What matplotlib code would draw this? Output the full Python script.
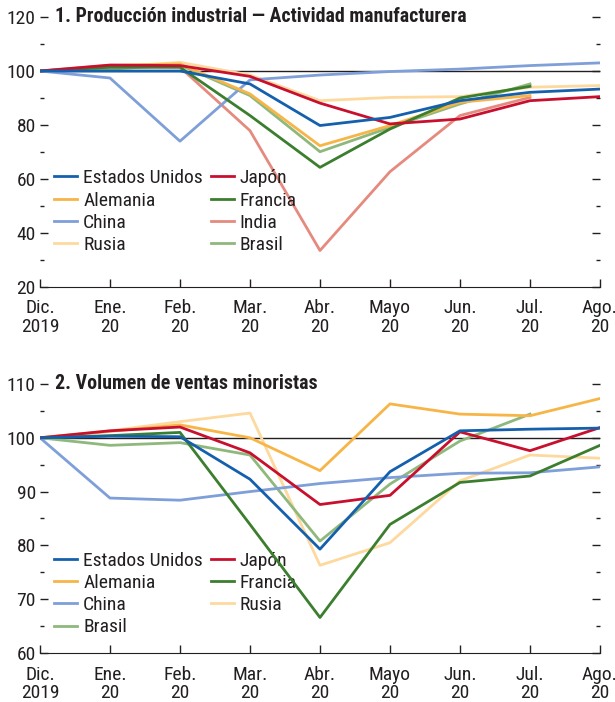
import matplotlib
matplotlib.use("Agg")
import matplotlib.pyplot as plt
from matplotlib.ticker import MultipleLocator

months = ["Dic.\n2019", "Ene.\n20", "Feb.\n20", "Mar.\n20", "Abr.\n20",
          "Mayo\n20", "Jun.\n20", "Jul.\n20", "Ago.\n20"]

# Panel 1: industrial production (index, Dec 2019 = 100)
ip_eeuu = [100, 100.0, 100.0, 95.2, 79.8, 82.8, 89.0, 92.1, 93.3]
ip_alemania = [100, 102.1, 102.6, 91.5, 72.3, 79.8, 88.4, 90.9]
ip_china = [100, 97.4, 74.0, 96.7, 98.5, 99.8, 100.7, 102.0, 103.0]
ip_rusia = [100, 101.4, 103.2, 98.5, 89.0, 90.2, 90.5, 94.0, 94.6]
ip_japon = [100, 102.2, 102.0, 98.0, 88.1, 80.4, 82.2, 89.0, 90.5]
ip_francia = [100, 101.4, 101.4, 83.5, 64.3, 78.5, 90.0, 94.3]
ip_india = [100, 101.6, 101.4, 77.9, 33.5, 62.7, 83.5, 90.2]
ip_brasil = [100, 100.7, 102.2, 90.9, 70.1, 79.1, 87.8, 95.2]

# Panel 2: retail sales volume
rs_eeuu = [100, 100.3, 100.2, 92.3, 79.3, 93.7, 101.3, 101.6, 101.8]
rs_alemania = [100, 101.2, 102.4, 100.0, 93.9, 106.3, 104.4, 104.1, 107.3]
rs_china = [100, 88.8, 88.4, 90.0, 91.5, 92.6, 93.4, 93.5, 94.6]
rs_brasil = [100, 98.6, 99.1, 96.8, 80.8, 91.4, 99.4, 104.4]
rs_japon = [100, 101.3, 102.0, 97.2, 87.6, 89.3, 101.1, 97.6, 101.9]
rs_francia = [100, 100.4, 101.0, 83.9, 66.6, 83.9, 91.7, 92.9, 98.6]
rs_rusia = [100, 101.3, 103.0, 104.6, 76.3, 80.5, 92.0, 96.8, 96.2]

colors = {
    "Estados Unidos": "#1560ad",
    "Japón": "#c8102e",
    "Alemania": "#f8b547",
    "Francia": "#3b7f2e",
    "China": "#7f9fd9",
    "India": "#e58a7e",
    "Rusia": "#fdd99e",
    "Brasil": "#8fb87c",
}

plt.rcParams["font.family"] = ["Roboto Condensed", "DejaVu Sans"]
plt.rcParams["text.color"] = "#231f20"

fig = plt.figure(figsize=(6.15, 7.02), dpi=100)
ax1 = fig.add_axes([0.065, 0.5912, 0.9106, 0.3846])
ax2 = fig.add_axes([0.065, 0.0698, 0.9106, 0.3832])

panel1 = [("Estados Unidos", ip_eeuu), ("Alemania", ip_alemania), ("China", ip_china),
          ("Rusia", ip_rusia), ("Japón", ip_japon), ("Francia", ip_francia),
          ("India", ip_india), ("Brasil", ip_brasil)]
panel2 = [("Estados Unidos", rs_eeuu), ("Alemania", rs_alemania), ("China", rs_china),
          ("Brasil", rs_brasil), ("Japón", rs_japon), ("Francia", rs_francia),
          ("Rusia", rs_rusia)]

draw_order = ["Rusia", "Brasil", "India", "China", "Alemania", "Francia", "Japón", "Estados Unidos"]


def style_panel(ax, series, ylim, major, minor, title, legend_y):
    ax.axhline(100, color="#231f20", lw=1.0, zorder=1)
    handles = {}
    for name, values in series:
        z = 2 + draw_order.index(name)
        (line,) = ax.plot(range(len(values)), values, color=colors[name], lw=2.0,
                          zorder=z, label=name)
        handles[name] = line
    ax.set_xlim(0, len(months) - 1)
    ax.set_ylim(*ylim)
    ax.set_xticks(range(len(months)))
    ax.set_xticklabels(months, fontsize=14, linespacing=1.05)
    ax.yaxis.set_major_locator(MultipleLocator(major))
    ax.yaxis.set_minor_locator(MultipleLocator(minor))
    for side in ["top", "left", "right"]:
        ax.spines[side].set_visible(False)
    ax.spines["bottom"].set_color("#231f20")
    ax.tick_params(axis="x", direction="in", length=6, width=1, pad=9, colors="#231f20")
    ax.tick_params(axis="y", which="major", direction="in", length=6, width=1,
                   left=True, right=True, labelsize=14, pad=3, colors="#231f20")
    ax.tick_params(axis="y", which="minor", direction="in", length=3, width=1,
                   left=True, right=True, colors="#231f20")
    ax.text(0.027, 1.0, title, transform=ax.transAxes, fontsize=14.3, fontweight="bold",
            va="center", ha="left")
    names = [n for n, _ in series]
    ax.legend([handles[n] for n in names], names, ncol=2, loc="upper left",
              bbox_to_anchor=(0.025, legend_y), frameon=False, fontsize=14,
              handlelength=1.2, handletextpad=0.3, columnspacing=0.4,
              labelspacing=0.22, borderpad=0, borderaxespad=0)


style_panel(ax1, panel1, (20, 120), 20, 10,
            "1. Producción industrial — Actividad manufacturera", 0.436)
style_panel(ax2, panel2, (60, 110), 10, 5,
            "2. Volumen de ventas minoristas", 0.377)

fig.savefig("out.png", dpi=100)
